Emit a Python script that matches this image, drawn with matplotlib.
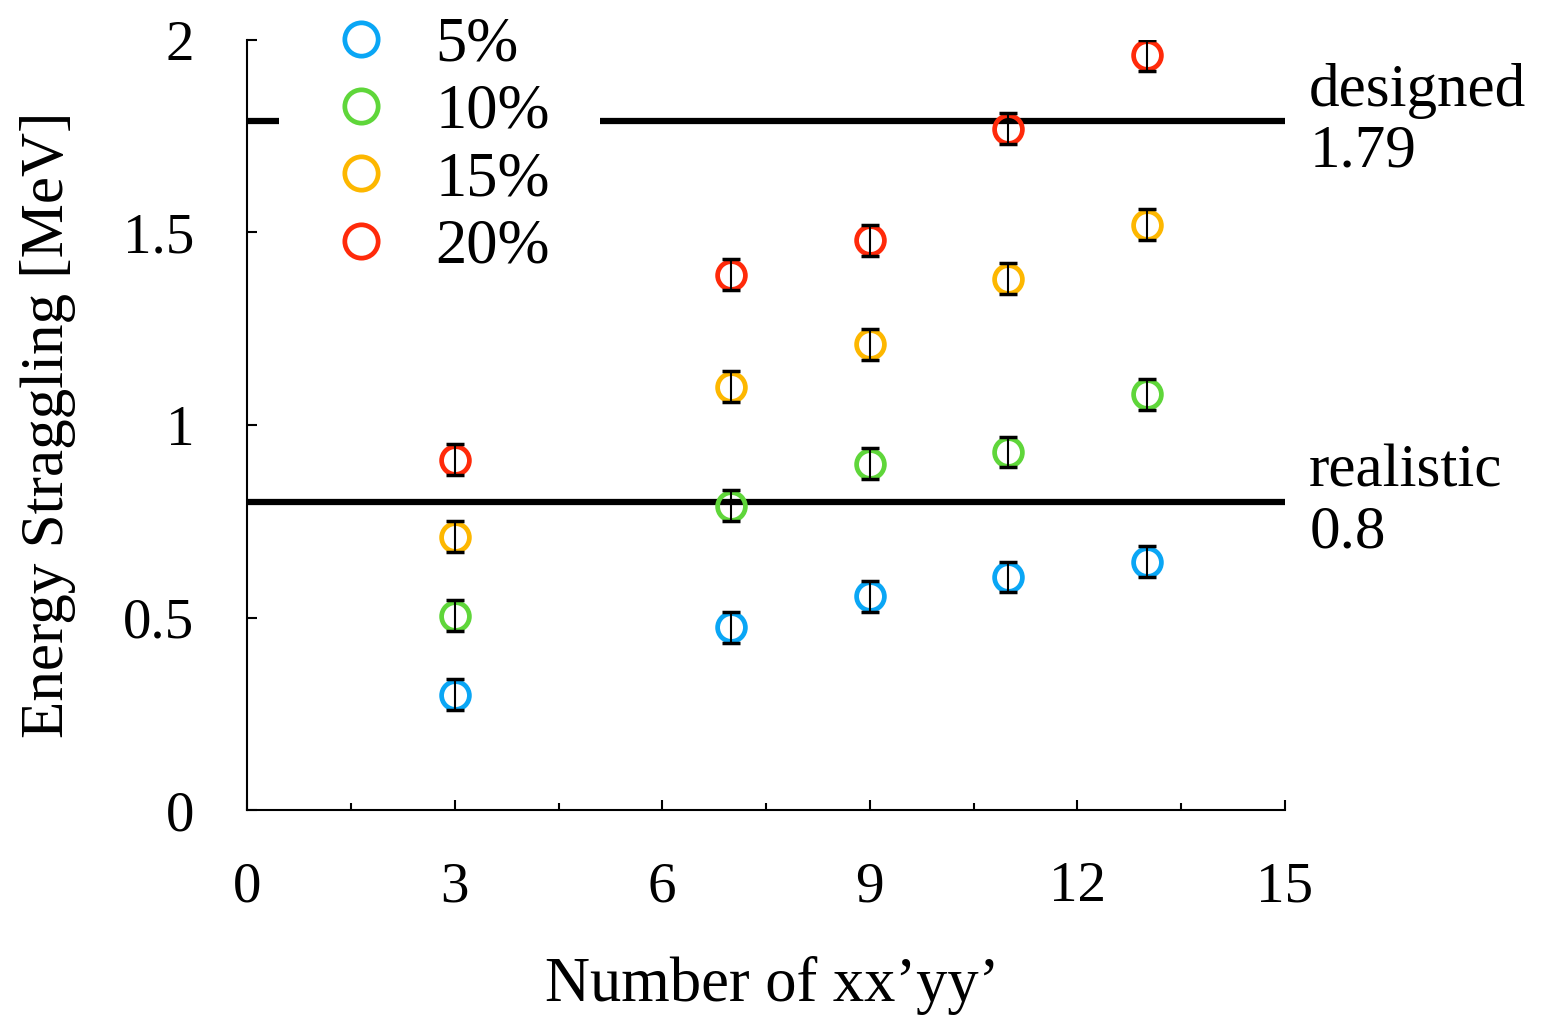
import numpy as np
import matplotlib as mpl
mpl.use('Agg')
import matplotlib.pyplot as plt

# data
n_xy = [3, 7, 9, 11, 13]
labels = ['5%', '10%', '15%', '20%']
colors = ['#0aa6f5', '#5fd63a', '#fdb700', '#ff2a0a']
vals = [
    [0.30, 0.475, 0.555, 0.605, 0.645],   # 5%
    [0.505, 0.79, 0.90, 0.93, 1.08],      # 10%
    [0.71, 1.10, 1.21, 1.38, 1.52],       # 15%
    [0.91, 1.39, 1.48, 1.77, 1.96],       # 20%
]
err = 0.04
designed = 1.79
realistic = 0.8

plt.rcParams['font.family'] = ['Liberation Serif', 'DejaVu Serif']

fig = plt.figure(figsize=(15.45, 10.17), dpi=100)
ax = fig.add_axes([0.16, 0.2035, 0.6717, 0.7572])

ax.axhline(designed, color='black', lw=4.5, zorder=1)
ax.axhline(realistic, color='black', lw=4.5, zorder=1)

for lab, col, v in zip(labels, colors, vals):
    ax.plot(n_xy, v, 'o', ms=20, mfc='none', mec=col, mew=3.4, label=lab, zorder=3)
    ax.errorbar(n_xy, v, yerr=err, fmt='none', ecolor='black', elinewidth=1.5,
                capsize=6.5, capthick=2.5, zorder=4)

ax.set_xlim(0, 15)
ax.set_ylim(0, 2)
ax.set_xticks([0, 3, 6, 9, 12, 15])
ax.set_xticks(np.arange(1.5, 15, 3), minor=True)
ax.set_yticks([0, 0.5, 1, 1.5, 2])
ax.set_yticklabels(['0', '0.5', '1', '1.5', '2'])
ax.spines['top'].set_visible(False)
ax.spines['right'].set_visible(False)
for s in ['left', 'bottom']:
    ax.spines[s].set_linewidth(1.5)
ax.tick_params(axis='both', which='major', direction='in', length=7, width=1.5,
               labelsize=41)
ax.tick_params(axis='x', which='major', pad=37)
ax.tick_params(axis='x', which='minor', direction='in', length=5, width=1.5)
ax.tick_params(axis='y', which='major', pad=38)

ax.set_xlabel('Number of xx\u2019yy\u2019', fontsize=45)
ax.xaxis.set_label_coords(0.506, -0.19)
ax.set_ylabel('Energy Straggling [MeV]', fontsize=44)
ax.yaxis.set_label_coords(-0.165, 0.5)

ax.text(15.35, designed, 'designed\n1.79', fontsize=44, va='center', ha='left',
        linespacing=1.12, clip_on=False)
ax.text(15.35, realistic, 'realistic\n0.8', fontsize=44, va='center', ha='left',
        linespacing=1.12, clip_on=False)

leg = ax.legend(loc='upper left', bbox_to_anchor=(0.001, 1.136), fontsize=45,
                frameon=True, facecolor='white', edgecolor='none', framealpha=1,
                handletextpad=0.7, labelspacing=0.15, borderpad=0.8, handlelength=1.0,
                markerscale=1.2)
leg.set_zorder(5)

fig.savefig('out.png', dpi=100)
